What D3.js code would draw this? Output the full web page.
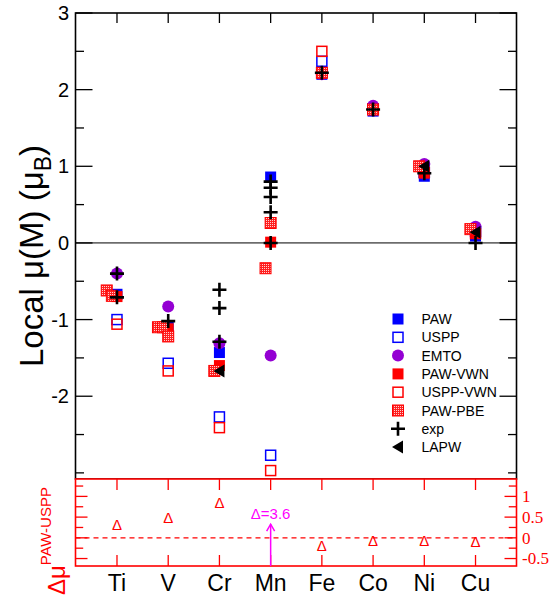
<!DOCTYPE html>
<html>
<head>
<meta charset="utf-8">
<script src="https://cdn.jsdelivr.net/npm/d3@7"></script>
<style>
  html, body { margin: 0; padding: 0; background: #fff; }
  svg { display: block; font-family: "Liberation Sans", Arial, sans-serif; }
</style>
</head>
<body>
<svg id="chart" width="554" height="598"></svg>
<script>
// Elements along the x axis (x = 1..8)
const elements = ["Ti", "V", "Cr", "Mn", "Fe", "Co", "Ni", "Cu"];

// Local moments (μB), one value per element
const paw     = [-0.67, -1.08, -1.43, 0.86, 2.20, 1.72, 0.87, 0.09];
const uspp    = [-1.00, -1.57, -2.27, -2.77, 2.37, 1.75, 0.92, 0.15];
const emto    = [-0.40, -0.83, -1.31, -1.47, 2.20, 1.79, 1.03, 0.21];
const pawVwn  = [-0.70, -1.12, -1.60, 0.01, 2.22, 1.74, 0.91, 0.12];
const usppVwn = [-1.06, -1.67, -2.41, -2.97, 2.50, 1.75, 0.92, 0.12];

// PAW-PBE: several inequivalent sites, plotted at x positions with small offsets
const pbeX = [0.8, 0.9, 1.8, 1.9, 2.0, 2.9, 3.9, 4.0, 5.0, 6.0, 6.9, 7.9];
const pbeY = [-0.62, -0.69, -1.10, -1.10, -1.22, -1.67, -0.33, 0.26, 2.22, 1.74, 1.00, 0.18];

// Experimental moments
const expX = [1, 1, 2, 3, 3, 3, 4, 4, 4, 4, 4, 5, 6, 7, 8];
const expY = [-0.40, -0.71, -1.02, -0.61, -0.85, -1.29, 0.80, 0.72, 0.60, 0.40, 0.0, 2.22, 1.74, 0.91, 0.0];

// LAPW
const lapwX = [3, 7, 8];
const lapwY = [-1.67, 1.00, 0.14];

// Δμ = PAW − USPP (lower panel)
const delta = [0.32, 0.49, 0.85, 3.6, -0.19, -0.07, -0.07, -0.10];

const yTicksTop = [-3, -2.5, -2, -1.5, -1, -0.5, 0, 0.5, 1, 1.5, 2, 2.5, 3];
const yLabelsTop = [-2, -1, 0, 1, 2, 3];
const yTicksBot = [-0.5, -0.25, 0, 0.25, 0.5, 0.75, 1, 1.25];
const yLabelsBot = [-0.5, 0, 0.5, 1];

const legendNames = ["PAW", "USPP", "EMTO", "PAW-VWN", "USPP-VWN", "PAW-PBE", "exp", "LAPW"];

const BLUE = "#0000ff", RED = "#ff0000", PURPLE = "#9400d3", MAGENTA = "#ff00ff";

const svg = d3.select("#chart");

// checkered fill for PAW-PBE squares
const defs = svg.append("defs");
const pat = defs.append("pattern").attr("id", "pbe").attr("patternUnits", "userSpaceOnUse")
  .attr("width", 2).attr("height", 2);
pat.append("rect").attr("width", 2).attr("height", 2).attr("fill", "#ff2020")
  .attr("shape-rendering", "crispEdges");
pat.append("rect").attr("width", 1).attr("height", 1).attr("fill", "#ffd0d0")
  .attr("shape-rendering", "crispEdges");

const L = 75.5, R = 516.5, T = 13, MID = 479, B = 566;

const x = d3.scaleLinear().domain([0.19, 8.8]).range([L, R]);
const y = d3.scaleLinear().domain([-3.08, 3]).range([MID, T]);
const yb = d3.scaleLinear().domain([-0.68, 1.42]).range([B, MID]);

// ---------- upper panel ----------
const upper = svg.append("g");

// zero line
upper.append("line").attr("x1", L).attr("x2", R).attr("y1", y(0)).attr("y2", y(0))
  .attr("stroke", "#000").attr("stroke-width", 1);

// y ticks on both sides, pointing inward
yTicksTop.forEach(v => {
  const major = Number.isInteger(v) && v !== -3;
  const len = major ? 17 : 8.5;
  upper.append("line").attr("x1", L).attr("x2", L + len).attr("y1", y(v)).attr("y2", y(v))
    .attr("stroke", "#000").attr("stroke-width", 1.3);
  upper.append("line").attr("x1", R).attr("x2", R - len).attr("y1", y(v)).attr("y2", y(v))
    .attr("stroke", "#000").attr("stroke-width", 1.3);
});
yLabelsTop.forEach(v => {
  upper.append("text").attr("x", 69).attr("y", y(v)).attr("dy", "0.36em")
    .attr("text-anchor", "end").attr("font-size", 20).attr("fill", "#000").text(v);
});
// x ticks along the top edge
elements.forEach((e, i) => {
  upper.append("line").attr("x1", x(i + 1)).attr("x2", x(i + 1)).attr("y1", T).attr("y2", T + 10)
    .attr("stroke", "#000").attr("stroke-width", 1.3);
});
upper.append("rect").attr("x", L).attr("y", T).attr("width", R - L).attr("height", MID - T)
  .attr("fill", "none").attr("stroke", "#000").attr("stroke-width", 1.6);

// y axis title
const yt = upper.append("text").attr("transform", `translate(43,${256}) rotate(-90)`)
  .attr("text-anchor", "middle").attr("font-size", 33).attr("fill", "#000");
yt.append("tspan").text("Local μ(M) (μ");
yt.append("tspan").attr("font-size", 23).attr("dy", 8).text("B");
yt.append("tspan").attr("dy", -8).text(")");

// ---------- marker painters ----------
const S = 11;
function square(g, cx, cy, fill) {
  g.append("rect").attr("x", cx - S / 2).attr("y", cy - S / 2).attr("width", S).attr("height", S)
    .attr("fill", fill);
}
function openSquare(g, cx, cy, col) {
  g.append("rect").attr("x", cx - 5).attr("y", cy - 5).attr("width", 10).attr("height", 10)
    .attr("fill", "none").attr("stroke", col).attr("stroke-width", 1.5);
}
function circle(g, cx, cy) {
  g.append("circle").attr("cx", cx).attr("cy", cy).attr("r", 6).attr("fill", PURPLE);
}
function hatch(g, cx, cy) {
  g.append("rect").attr("x", cx - 5.5).attr("y", cy - 5.5).attr("width", 11).attr("height", 11)
    .attr("fill", "url(#pbe)").attr("stroke", RED).attr("stroke-width", 1);
}
function cross(g, cx, cy) {
  g.append("path").attr("d", `M${cx - 7},${cy}H${cx + 7}M${cx},${cy - 7}V${cy + 7}`)
    .attr("stroke", "#000").attr("stroke-width", 2.6).attr("fill", "none");
}
function triangle(g, cx, cy) {
  g.append("path").attr("d", `M${cx - 6},${cy}L${cx + 5},${cy - 6.5}L${cx + 5},${cy + 6.5}Z`)
    .attr("fill", "#000");
}

// open symbols go underneath the filled ones
const marks = svg.append("g");
uspp.forEach((v, i) => openSquare(marks, x(i + 1), y(v), BLUE));
usppVwn.forEach((v, i) => openSquare(marks, x(i + 1), y(v), RED));
paw.forEach((v, i) => square(marks, x(i + 1), y(v), BLUE));
emto.forEach((v, i) => circle(marks, x(i + 1), y(v)));
pawVwn.forEach((v, i) => square(marks, x(i + 1), y(v), RED));
pbeX.forEach((xv, i) => hatch(marks, x(xv), y(pbeY[i])));
expX.forEach((xv, i) => cross(marks, x(xv), y(expY[i])));
lapwX.forEach((xv, i) => triangle(marks, x(xv), y(lapwY[i])));

// legend
const lg = svg.append("g");
const painters = [
  (g, cx, cy) => square(g, cx, cy, BLUE),
  (g, cx, cy) => openSquare(g, cx, cy, BLUE),
  (g, cx, cy) => circle(g, cx, cy),
  (g, cx, cy) => square(g, cx, cy, RED),
  (g, cx, cy) => openSquare(g, cx, cy, RED),
  (g, cx, cy) => hatch(g, cx, cy),
  (g, cx, cy) => cross(g, cx, cy),
  (g, cx, cy) => triangle(g, cx, cy)
];
legendNames.forEach((n, i) => {
  const cy = 319 + i * 18.3;
  painters[i](lg, 398, cy);
  lg.append("text").attr("x", 421.5).attr("y", cy).attr("dy", "0.36em")
    .attr("font-size", 14).attr("fill", "#000").text(n);
});

// ---------- lower panel: Δμ ----------
const lower = svg.append("g");
lower.append("rect").attr("x", L).attr("y", MID).attr("width", R - L).attr("height", B - MID)
  .attr("fill", "#fff");
lower.append("line").attr("x1", L).attr("x2", R).attr("y1", yb(0)).attr("y2", yb(0))
  .attr("stroke", RED).attr("stroke-width", 1.2).attr("stroke-dasharray", "5,4");
yTicksBot.forEach(v => {
  const len = (v * 2) % 1 === 0 ? 12 : 7.7;
  lower.append("line").attr("x1", L).attr("x2", L + len).attr("y1", yb(v)).attr("y2", yb(v))
    .attr("stroke", RED).attr("stroke-width", 1.3);
  lower.append("line").attr("x1", R).attr("x2", R - len).attr("y1", yb(v)).attr("y2", yb(v))
    .attr("stroke", RED).attr("stroke-width", 1.3);
});
elements.forEach((e, i) => {
  const xi = x(i + 1);
  lower.append("line").attr("x1", xi).attr("x2", xi).attr("y1", MID).attr("y2", MID + 11)
    .attr("stroke", RED).attr("stroke-width", 1.3);
  lower.append("line").attr("x1", xi).attr("x2", xi).attr("y1", B).attr("y2", B - 11)
    .attr("stroke", RED).attr("stroke-width", 1.3);
  lower.append("text").attr("x", xi).attr("y", 591).attr("text-anchor", "middle")
    .attr("font-size", 23).attr("fill", "#000").text(e);
});
lower.append("rect").attr("x", L).attr("y", MID).attr("width", R - L).attr("height", B - MID)
  .attr("fill", "none").attr("stroke", RED).attr("stroke-width", 1.6);
yLabelsBot.forEach(v => {
  lower.append("text").attr("x", 522).attr("y", yb(v)).attr("dy", "0.35em")
    .attr("font-family", "'Liberation Serif', 'Times New Roman', serif")
    .attr("font-size", 17).attr("fill", RED).text(v);
});

// Δ markers; values beyond the panel are shown as an arrow with a label
delta.forEach((v, i) => {
  if (v > yb.domain()[1]) {
    const xi = x(i + 1), tip = yb(0.33);
    lower.append("line").attr("x1", xi).attr("x2", xi).attr("y1", B).attr("y2", tip)
      .attr("stroke", MAGENTA).attr("stroke-width", 1.5);
    lower.append("path").attr("d", `M${xi - 4},${tip + 7}L${xi},${tip}L${xi + 4},${tip + 7}`)
      .attr("stroke", MAGENTA).attr("stroke-width", 1.5).attr("fill", "none");
    lower.append("text").attr("x", xi).attr("y", yb(0.58)).attr("dy", "0.35em")
      .attr("text-anchor", "middle").attr("font-size", 15).attr("fill", MAGENTA)
      .text("Δ=" + v);
  } else {
    lower.append("text").attr("x", x(i + 1)).attr("y", yb(v)).attr("dy", "0.35em")
      .attr("text-anchor", "middle").attr("font-size", 15).attr("fill", RED).text("Δ");
  }
});

// lower y title: Δμ with PAW-USPP superscript
const bt = lower.append("text").attr("transform", `translate(65,595) rotate(-90)`)
  .attr("text-anchor", "start").attr("font-size", 24).attr("fill", RED);
bt.append("tspan").text("Δμ");
bt.append("tspan").attr("font-size", 15).attr("dy", -14).text("PAW-USPP");
</script>
</body>
</html>
